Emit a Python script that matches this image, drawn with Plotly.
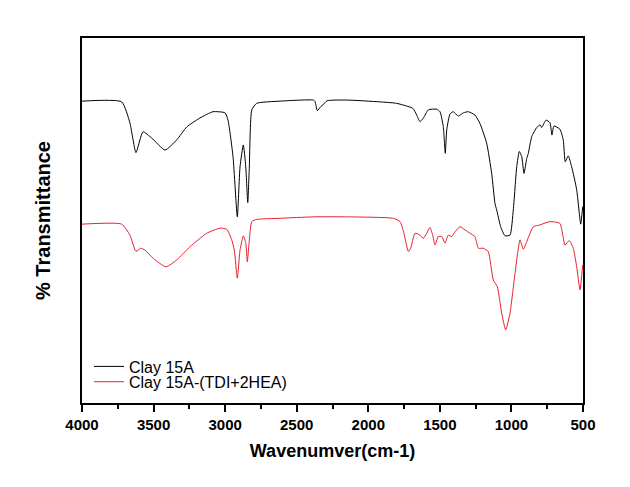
import plotly.graph_objects as go

# Clay 15A (black)
wn_clay = [4000, 3723, 3665, 3623, 3574, 3513, 3420, 3338, 3269, 3176, 3085, 3001, 2980,
           2945, 2915, 2896, 2873, 2856, 2842, 2831, 2814, 2780, 2617, 2384, 2372, 2356,
           2332, 2316, 2288, 2151, 1918, 1802, 1688, 1662, 1639, 1616, 1581, 1522, 1499,
           1476, 1462, 1452, 1429, 1406, 1371, 1336, 1301, 1255, 1220, 1173, 1138, 1115,
           1103, 1075, 1045, 1010, 987, 963, 945, 928, 912, 893, 882, 858, 823, 800, 789,
           758, 731, 717, 703, 661, 638, 624, 603, 579, 544, 516, 502]
t_clay = [82.7, 82.5, 76.7, 68.6, 74.3, 72.6, 69.3, 72.1, 75.6, 78.1, 79.8, 79.5, 77.5,
          67.5, 51.0, 64.7, 70.7, 64.7, 54.9, 64.7, 80.3, 82.1, 82.7, 83.0, 82.6, 80.1,
          81.2, 81.7, 82.8, 83.0, 82.5, 82.1, 80.7, 78.9, 77.1, 78.0, 80.3, 80.5, 79.8,
          75.7, 68.4, 74.8, 79.2, 79.8, 78.6, 79.5, 79.8, 78.9, 76.6, 71.2, 62.9, 54.7,
          52.9, 48.3, 45.8, 46.0, 52.9, 64.7, 68.9, 67.5, 62.9, 67.0, 68.4, 73.0, 75.5,
          76.2, 75.5, 77.5, 76.8, 73.4, 75.9, 75.0, 72.1, 66.1, 67.7, 64.7, 58.4, 49.0, 53.8]

# Clay 15A-(TDI+2HEA) (red)
wn_mod = [4000, 3723, 3665, 3623, 3590, 3560, 3502, 3413, 3338, 3246, 3129, 3036, 2989,
          2954, 2936, 2915, 2896, 2873, 2856, 2845, 2833, 2814, 2780, 2617, 2384, 2151,
          1825, 1778, 1751, 1720, 1704, 1674, 1639, 1616, 1592, 1569, 1550, 1534, 1511,
          1487, 1464, 1441, 1417, 1394, 1359, 1324, 1289, 1255, 1231, 1197, 1162, 1127,
          1099, 1068, 1040, 1010, 975, 940, 917, 893, 870, 847, 800, 731, 661, 626, 596,
          568, 544, 521, 502]
t_mod = [49.0, 49.0, 46.0, 41.5, 42.4, 41.9, 39.6, 37.3, 39.2, 42.8, 46.5, 47.9, 47.6,
         44.7, 41.9, 34.2, 41.9, 45.8, 43.8, 38.7, 43.8, 49.7, 50.3, 50.6, 51.0, 51.0,
         50.6, 49.7, 46.5, 41.5, 42.4, 46.5, 46.0, 45.1, 46.5, 48.1, 46.0, 43.3, 45.6,
         45.6, 43.8, 46.0, 45.6, 46.9, 48.3, 47.4, 46.5, 45.6, 42.4, 42.4, 41.5, 33.7,
         31.9, 24.6, 20.0, 24.6, 35.5, 44.7, 42.1, 44.2, 46.5, 48.3, 48.8, 49.7, 49.2,
         43.3, 44.5, 42.4, 37.3, 31.0, 37.8]

x_ticks = [4000, 3500, 3000, 2500, 2000, 1500, 1000, 500]
x_ticktext = [str(v) for v in x_ticks]

fig = go.Figure()
fig.add_trace(go.Scatter(x=wn_clay, y=t_clay, mode="lines", name="Clay 15A", legend="legend",
                         line=dict(color="black", width=1, shape="spline", smoothing=0.5)))
fig.add_trace(go.Scatter(x=wn_mod, y=t_mod, mode="lines", name="Clay 15A-(TDI+2HEA)", legend="legend2",
                         line=dict(color="#e8202e", width=1, shape="spline", smoothing=0.5)))

legend_style = dict(xanchor="left", yanchor="middle", bgcolor="rgba(0,0,0,0)",
                    font=dict(size=16), itemwidth=30)

fig.update_layout(
    width=630, height=487,
    margin=dict(l=74, r=55, t=30, b=92),
    paper_bgcolor="white", plot_bgcolor="white",
    font=dict(family="Liberation Sans, Arial, sans-serif", color="black"),
    showlegend=True,
    legend=dict(x=0.014, y=0.100, **legend_style),
    legend2=dict(x=0.014, y=0.058, **legend_style),
    xaxis=dict(range=[4000, 500], tickvals=x_ticks, ticktext=x_ticktext,
               ticks="outside", ticklen=7, tickwidth=2, tickcolor="black",
               minor=dict(dtick=250, tick0=500, ticks="outside", ticklen=4, tickwidth=2, tickcolor="black"),
               showline=True, linewidth=2, linecolor="black", mirror=True,
               showgrid=False, zeroline=False,
               tickfont=dict(size=15, weight="bold"),
               title=dict(text="Wavenumver(cm-1)", font=dict(size=18, weight="bold"), standoff=12)),
    yaxis=dict(range=[0, 100], showticklabels=False, ticks="",
               showline=True, linewidth=2, linecolor="black", mirror=True,
               showgrid=False, zeroline=False,
               title=dict(text="% Transmittance", font=dict(size=20, weight="bold"), standoff=24)),
)

fig.write_html("out.html")
